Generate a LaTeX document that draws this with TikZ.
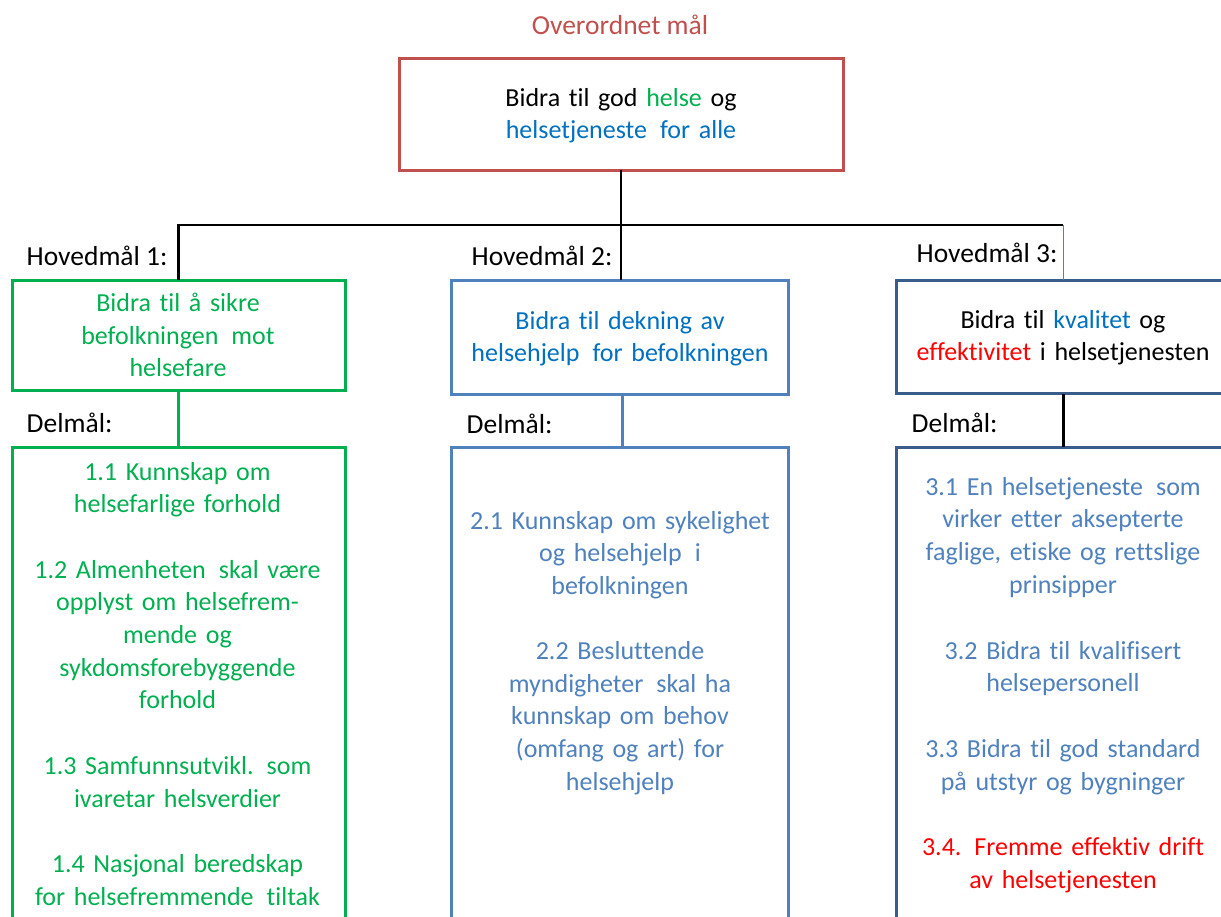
\documentclass[tikz,border=0pt]{standalone}
\usepackage{fontspec}
\setmainfont{Carlito}[Ligatures={NoCommon}]
\definecolor{cRed}{HTML}{C0504D}
\definecolor{cGreen}{HTML}{00B050}
\definecolor{cBlue}{HTML}{0070C0}
\definecolor{cSteel}{HTML}{4F81BD}
\definecolor{cNavy}{HTML}{385D8A}
\definecolor{cBright}{HTML}{FF0000}
\newcommand{\txt}[1]{\fontsize{26}{#1}\selectfont}
\newcommand{\lbl}{\fontsize{27.5}{30}\selectfont}
\tikzset{
  box/.style={draw=#1, line width=3pt, rectangle, inner sep=0pt, outer sep=0pt},
  label/.style={inner sep=0pt, outer sep=0pt, anchor=base west, font=\lbl},
  body/.style={inner sep=0pt, outer sep=0pt, anchor=base, text width=#1, align=center},
  bus/.style={line width=2.5pt, black},
}
\begin{document}
\begin{tikzpicture}[x=1pt, y=-1pt]
\useasboundingbox (0,0) rectangle (1221,916);
\clip (0,0) rectangle (1221,916);

% overall goal
\node[inner sep=0pt, anchor=base, text=cRed, font=\lbl] (over) at (620,34.3) {Overordnet mål};
\node[box=cRed, minimum width=443.5pt, minimum height=111.5pt] (top) at (621.25,114.25) {};
\node[body=420pt, font=\txt{31.6}] (toptxt) at (621,106.7)
  {Bidra til god \textcolor{cGreen}{helse} og\\ \textcolor{cBlue}{helsetjeneste\, for alle}};

% main goals
\node[box=cGreen, minimum width=333pt, minimum height=110pt] (h1) at (178.5,335) {};
\node[box=cSteel, minimum width=337pt, minimum height=114.5pt] (h2) at (619.5,337.25) {};
\node[box=cNavy, minimum width=334.5pt, minimum height=113.5pt] (h3) at (1063.75,336.75) {};

\node[label] (l1) at (26.7,265) {Hovedmål 1:};
\node[label] (l2) at (471.7,265) {Hovedmål 2:};
\node[label] (l3) at (916.7,262) {Hovedmål 3:};

\node[body=320pt, font=\txt{32.5}, text=cGreen] (h1txt) at (178,311.7)
  {Bidra til å sikre\\ befolkningen\, mot\\ helsefare};
\node[body=320pt, font=\txt{32.4}, text=cBlue] (h2txt) at (620,329.3)
  {Bidra til dekning av\\ helsehjelp\, for befolkningen};
\node[body=330pt, font=\txt{31.5}] (h3txt) at (1063,328.7)
  {Bidra til \textcolor{cBlue}{kvalitet} og\\ \textcolor{cBright}{effektivitet} i helsetjenesten};

% sub goals
\node[box=cGreen, minimum width=333pt, minimum height=513pt] (d1) at (178.5,703.5) {};
\node[box=cSteel, minimum width=337pt, minimum height=513pt] (d2) at (619.5,703.5) {};
\node[box=cNavy, minimum width=334.5pt, minimum height=513pt] (d3) at (1063.75,703.5) {};

\node[label] (s1) at (26.7,432.7) {Delmål:};
\node[label] (s2) at (466.7,433) {Delmål:};
\node[label] (s3) at (911.7,432.7) {Delmål:};

\node[body=330pt, font=\txt{32.7}, text=cGreen] (d1txt) at (177.5,480)
  {1.1 Kunnskap om\\ helsefarlige forhold\\[32.7pt]
   1.2 Almenheten\, skal være\\ opplyst om helsefrem-\\ mende og\\ sykdomsforebyggende\\ forhold\\[32.7pt]
   1.3 Samfunnsutvikl. som\\ ivaretar helsverdier\\[32.7pt]
   1.4 Nasjonal beredskap\\ for helsefremmende\, tiltak};
\node[body=330pt, font=\txt{32.6}, text=cSteel] (d2txt) at (620,529.3)
  {2.1 Kunnskap om sykelighet\\ og helsehjelp\, i\\ befolkningen\\[32.6pt]
   2.2 Besluttende\\ myndigheter\, skal ha\\ kunnskap om behov\\ (omfang og art) for\\ helsehjelp};
\node[body=330pt, font=\txt{32.8}, text=cSteel] (d3txt) at (1063,495)
  {3.1 En helsetjeneste\, som\\ virker etter aksepterte\\ faglige, etiske og rettslige\\ prinsipper\\[32.8pt]
   3.2 Bidra til kvalifisert\\ helsepersonell\\[32.8pt]
   3.3 Bidra til god standard\\ på utstyr og bygninger\\[32.8pt]
   \color{cBright}3.4. Fremme effektiv drift\\ av helsetjenesten};

% connectors
\coordinate (b1) at (178.5,225);
\coordinate (b2) at (621,225);
\coordinate (b3) at (1063.3,225);
\draw[bus] (top.south -| b2) -- (b2);
\draw[bus] (b1 |- h1.north) -- (b1) -- (b3);
\draw[bus] (b2) -- (b2 |- h2.north);
\draw[cSteel, line width=1.5pt] (b3) -- (b3 |- h3.north);
\draw[cGreen, line width=2.5pt] (h1.south) -- (d1.north);
\draw[cSteel, line width=2.5pt] ([xshift=3.2pt]h2.south) -- ([xshift=3.2pt]d2.north);
\draw[bus] (h3.south -| b3) -- (d3.north -| b3);
\end{tikzpicture}
\end{document}
